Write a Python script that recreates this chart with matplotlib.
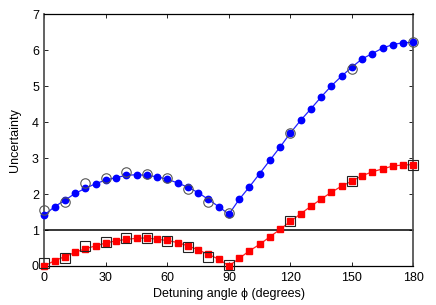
import numpy as np
import matplotlib
matplotlib.use('Agg')
import matplotlib.pyplot as plt

plt.rcParams['font.family'] = ['Liberation Sans', 'DejaVu Sans']

# detuning angles (degrees)
phi = np.arange(0, 181, 5)
# blue series (fine sampling)
blue = [1.42, 1.65, 1.83, 2.02, 2.16, 2.29, 2.39, 2.46, 2.52, 2.54,
        2.52, 2.48, 2.41, 2.31, 2.19, 2.04, 1.85, 1.65, 1.44,
        1.85, 2.20, 2.57, 2.94, 3.31, 3.70, 4.05, 4.37, 4.70, 5.01,
        5.28, 5.53, 5.76, 5.91, 6.06, 6.16, 6.21, 6.22]
# red series (fine sampling)
red = [0.00, 0.15, 0.26, 0.38, 0.48, 0.56, 0.64, 0.70, 0.74, 0.77,
       0.78, 0.74, 0.71, 0.65, 0.56, 0.45, 0.32, 0.19, 0.00,
       0.21, 0.42, 0.60, 0.81, 1.02, 1.24, 1.45, 1.66, 1.86, 2.05,
       2.22, 2.36, 2.51, 2.62, 2.70, 2.78, 2.81, 2.82]

# coarse samples (open markers)
phi_c = [0, 10, 20, 30, 40, 50, 60, 70, 80, 90, 120, 150, 180]
circ = [1.57, 1.77, 2.30, 2.44, 2.60, 2.57, 2.46, 2.13, 1.78, 1.48, 3.71, 5.49, 6.22]
sq = [0.09, 0.21, 0.56, 0.68, 0.78, 0.77, 0.70, 0.52, 0.26, 0.02, 1.24, 2.35, 2.82]

fig = plt.figure(figsize=(4.36, 3.05), dpi=100)
ax = fig.add_axes([0.102, 0.128, 0.846, 0.825])

ax.axhline(1, color='black', linewidth=1.1, zorder=1)

ax.plot(phi, blue, color='#2222ff', linewidth=0.9, marker='o', markersize=4.6,
        markerfacecolor='#0000ff', markeredgecolor='#0000ff', zorder=3)
ax.plot(phi, red, color='#ff2222', linewidth=0.9, marker='s', markersize=4.0,
        markerfacecolor='#ff0000', markeredgecolor='#ff0000', zorder=3)

ax.plot(phi_c, circ, linestyle='none', marker='o', markersize=6.8,
        markerfacecolor='none', markeredgecolor='#555555', markeredgewidth=0.8, zorder=4)
ax.plot(phi_c, sq, linestyle='none', marker='s', markersize=6.6,
        markerfacecolor='none', markeredgecolor='#222222', markeredgewidth=0.8, zorder=4)

ax.set_xlim(0, 180)
ax.set_ylim(0, 7)
ax.set_xticks(range(0, 181, 30))
ax.set_yticks(range(0, 8))
ax.tick_params(direction='in', top=True, right=True, length=3, width=0.6,
               labelsize=9, pad=4)

for s in ['top', 'bottom']:
    ax.spines[s].set_linewidth(0.9)
for s in ['left', 'right']:
    ax.spines[s].set_color('#555555')
    ax.spines[s].set_linewidth(1.3)

ax.set_xlabel('Detuning angle ϕ (degrees)', fontsize=9, labelpad=3)
ax.set_ylabel('Uncertainty', fontsize=9, labelpad=8)

for line in ax.lines:
    line.set_clip_on(False)

fig.savefig('out.png', dpi=100)
